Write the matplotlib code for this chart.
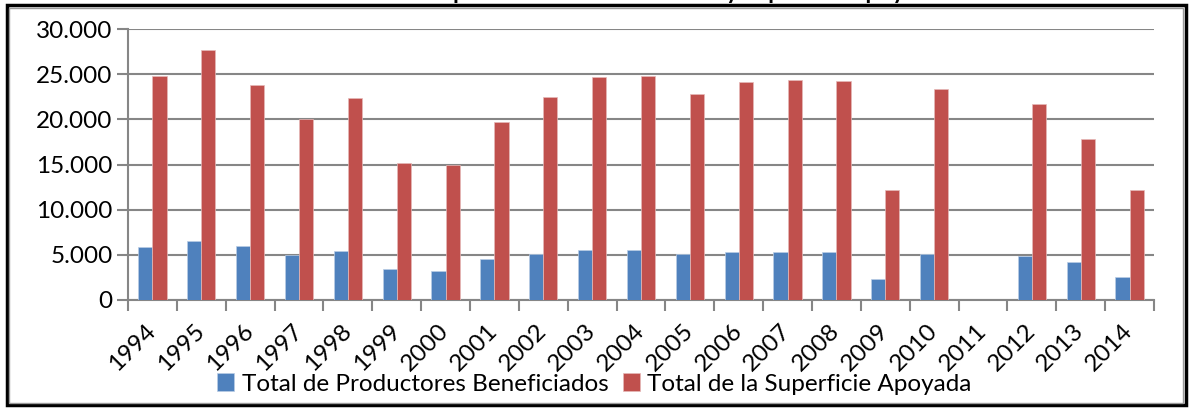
import numpy as np
import matplotlib
matplotlib.use("Agg")
import matplotlib.pyplot as plt
from matplotlib.patches import Rectangle
from matplotlib.ticker import FuncFormatter, MultipleLocator

plt.rcParams['font.family'] = ['Lato', 'DejaVu Sans']

# --- data ---
years = ['1994', '1995', '1996', '1997', '1998', '1999', '2000', '2001', '2002', '2003', '2004',
         '2005', '2006', '2007', '2008', '2009', '2010', '2011', '2012', '2013', '2014']
productores = [5850, 6570, 5980, 5020, 5420, 3430, 3210, 4540, 5090, 5480, 5480,
               5050, 5280, 5310, 5300, 2360, 5060, 0, 4840, 4170, 2580]
superficie = [24800, 27700, 23800, 20050, 22400, 15200, 14900, 19700, 22500, 24700, 24800,
              22800, 24100, 24300, 24200, 12200, 23400, 0, 21700, 17800, 12200]
series_names = ['Total de Productores Beneficiados', 'Total de la Superficie Apoyada']
title = 'Total de productores beneficiados y superficie apoyada'

W, H = 1189, 409
fig = plt.figure(figsize=(W / 100, H / 100), dpi=100)
ax = fig.add_axes([128 / W, 1 - 300 / H, (1154 - 128) / W, (300 - 29) / H])

x = np.arange(len(years))
bw = 0.29
ax.bar(x - bw / 2, productores, bw, color='#4F81BD', edgecolor='#B9CDE5', linewidth=0.5,
       label=series_names[0], zorder=3)
ax.bar(x + bw / 2, superficie, bw, color='#C0504D', edgecolor='#E6B9B8', linewidth=0.5,
       label=series_names[1], zorder=3)

ax.set_xlim(-0.5, len(years) - 0.5)
ax.set_ylim(0, 30000)
ax.yaxis.set_major_locator(MultipleLocator(5000))
ax.yaxis.set_major_formatter(FuncFormatter(lambda v, p: f"{int(v):,}".replace(',', '.')))
ax.grid(axis='y', color='#868686', linewidth=1.5, zorder=0)

# category boundary ticks on x axis
ax.set_xticks(np.arange(len(years) + 1) - 0.5)
ax.set_xticklabels([])
ax.set_xticks(x, minor=True)
ax.set_xticklabels(years, minor=True, rotation=45, ha='right', va='center',
                   rotation_mode='anchor', fontsize=17.5)
ax.tick_params(axis='x', which='major', length=8, width=1.5, color='#868686')
ax.tick_params(axis='x', which='minor', length=0, pad=20)
ax.tick_params(axis='y', length=8, width=1.5, color='#868686', labelsize=17.5, pad=3)

for side in ['top', 'right']:
    ax.spines[side].set_visible(False)
for side in ['left', 'bottom']:
    ax.spines[side].set_color('#868686')
    ax.spines[side].set_linewidth(1.5)

leg = fig.legend(loc='center', bbox_to_anchor=(0.5, 1 - 384 / H), ncol=2, frameon=False,
                 fontsize=17.5, handlelength=0.7, handleheight=0.7, handletextpad=0.3,
                 columnspacing=0.6)

# outer frame of the chart area
fig.patches.append(Rectangle((6.5 / W, 4 / H), (W - 10) / W, (H - 9) / H,
                             transform=fig.transFigure, fill=False,
                             edgecolor='black', linewidth=2.5))
fig.patches.append(Rectangle((9 / W, 6.5 / H), (W - 15) / W, (H - 14) / H,
                             transform=fig.transFigure, fill=False,
                             edgecolor='#9a9a9a', linewidth=1))

# title mostly clipped off the top, as in the reference
fig.text(652 / W, 1 + 1 / H, title, ha='center', va='baseline', fontsize=17, fontweight='bold')

fig.savefig('out.png', dpi=100)
